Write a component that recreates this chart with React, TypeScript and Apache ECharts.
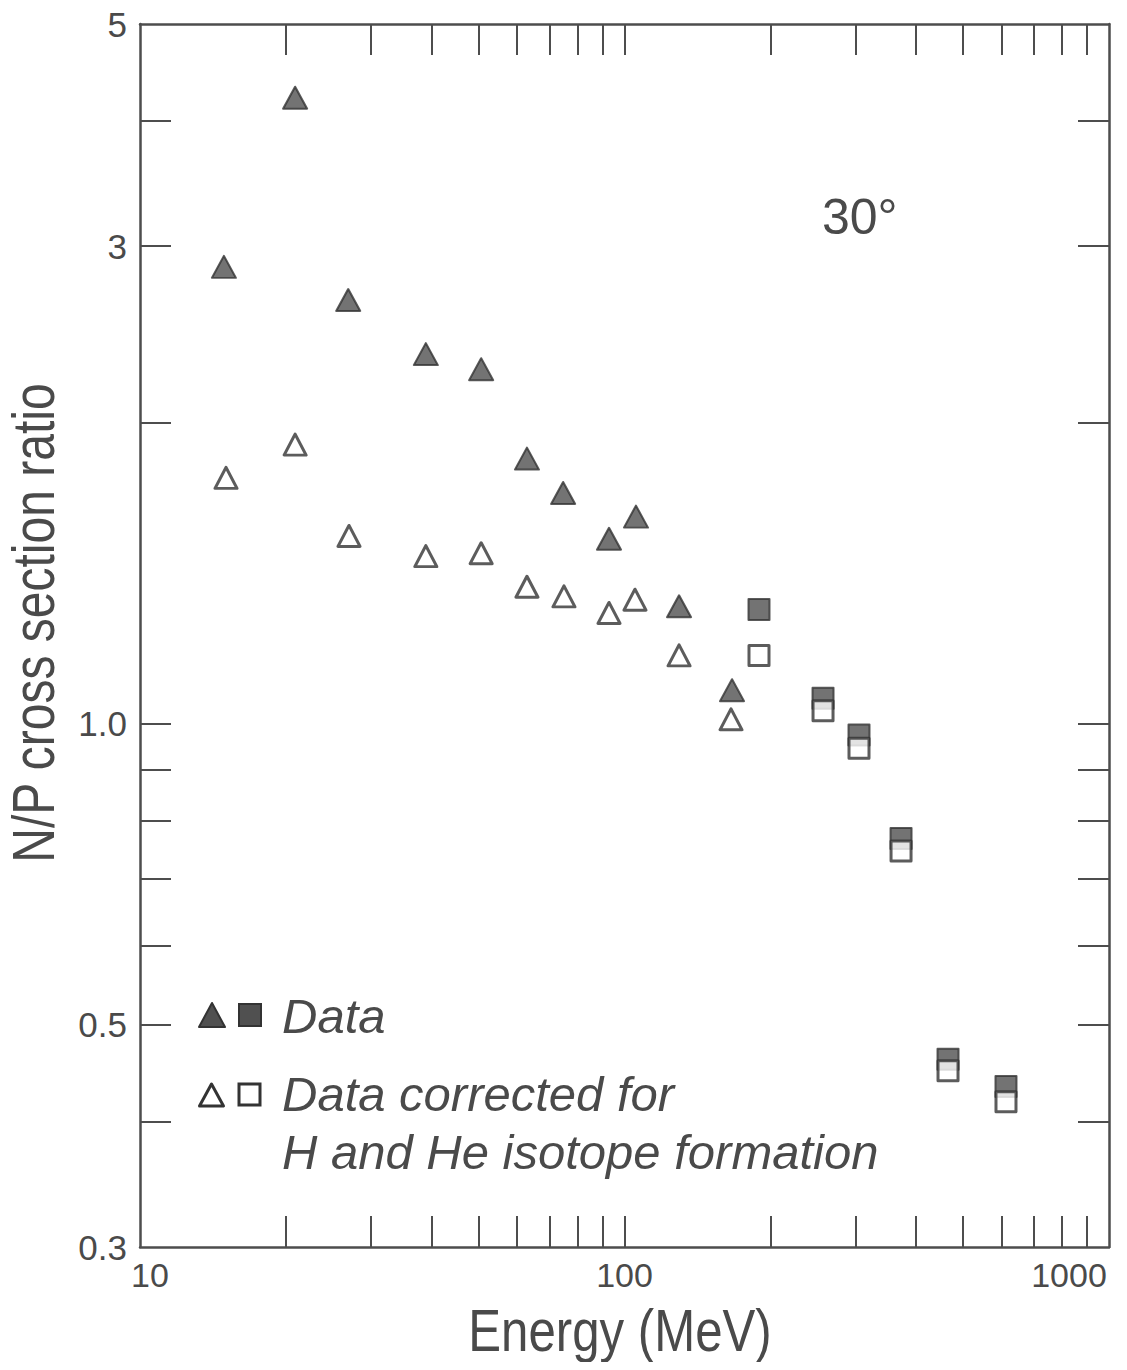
import React, { useEffect, useRef } from "react";
import * as echarts from "echarts";

// ---- data ----
const filledTriE = [14.9, 20.9, 26.9, 38.9, 50.6, 62.9, 74.7, 92.9, 105.6, 129.6, 166.7];
const filledTriR = [2.86, 4.22, 2.65, 2.34, 2.26, 1.84, 1.7, 1.53, 1.61, 1.31, 1.08];
const openTriE = [15.05, 20.9, 27.0, 38.9, 50.6, 62.9, 75.0, 92.9, 105.1, 129.6, 165.9];
const openTriR = [1.76, 1.9, 1.54, 1.47, 1.48, 1.37, 1.34, 1.29, 1.33, 1.17, 1.01];
const squareE = [189.5, 256.9, 304.8, 372.2, 465.3, 612.9];
const filledSqR = [1.3, 1.06, 0.974, 0.768, 0.462, 0.434];
const openSqR = [1.17, 1.03, 0.945, 0.746, 0.45, 0.419];

const xTicks = [20, 30, 40, 50, 60, 70, 80, 90, 100, 200, 300, 400, 500, 600, 700, 800, 900];
const xLabels = [10, 100, 1000];
const yTicks = [0.4, 0.5, 0.6, 0.7, 0.8, 0.9, 1, 2, 3, 4];
const yLabels = [0.3, 0.5, 1, 3, 5];

const xTitle = "Energy (MeV)";
const yTitle = "N/P cross section ratio";
const angleText = "30°";
const legendText1 = "Data";
const legendText2 = "Data corrected for";
const legendText3 = "H and He isotope formation";

const INK = "#4d4d4d";
const TEXT = "#4a4a4a";
const FILL = "#505050";
const FONT = "'Liberation Sans', Arial, Helvetica, sans-serif";

function pairs(xs: number[], ys: number[]) {
  return xs.map((x, i) => [x, ys[i]]);
}

export default function App() {
  const ref = useRef<HTMLDivElement>(null);

  useEffect(() => {
    if (!ref.current) return;
    const chart = echarts.init(ref.current, undefined, { renderer: "svg" });

    const tickStyle = { color: INK, width: 2 };
    const lineStyle = { color: INK, width: 2.5 };

    const xBase = {
      type: "log" as const,
      logBase: 10,
      min: 10,
      max: 1000,
      splitLine: { show: false },
      axisLine: { show: true, lineStyle },
      axisTick: { show: true, inside: true, length: 31, lineStyle: tickStyle, customValues: xTicks },
    };
    const yBase = {
      type: "log" as const,
      logBase: 10,
      min: 0.3,
      max: 5,
      splitLine: { show: false },
      axisLine: { show: true, lineStyle },
      axisTick: { show: true, inside: true, length: 31, lineStyle: tickStyle, customValues: yTicks },
    };

    const option: any = {
      animation: false,
      backgroundColor: "#ffffff",
      grid: { left: 140, top: 24, width: 969, height: 1223, containLabel: false, outerBoundsMode: "none" },
      xAxis: [
        {
          ...xBase,
          position: "bottom",
          axisLabel: {
            show: true,
            customValues: xLabels,
            margin: 11,
            fontFamily: FONT,
            fontSize: 34,
            color: TEXT,
            formatter: (v: number) => {
              const r = Math.round(v);
              if (r === 10) return "{l|10}";
              if (r === 1000) return "{r|1000}";
              return String(r);
            },
            rich: {
              l: { fontFamily: FONT, fontSize: 34, color: TEXT, padding: [0, 0, 0, 20] },
              r: { fontFamily: FONT, fontSize: 34, color: TEXT, padding: [0, 80, 0, 0] },
            },
          },
        },
        { ...xBase, position: "top", axisLabel: { show: false } },
      ],
      yAxis: [
        {
          ...yBase,
          position: "left",
          axisLabel: {
            show: true,
            customValues: yLabels,
            margin: 13,
            fontFamily: FONT,
            fontSize: 35,
            lineHeight: 30,
            color: TEXT,
            formatter: (v: number) => {
              const r = Math.round(v * 10) / 10;
              return r === 1 ? "1.0" : String(r);
            },
          },
        },
        { ...yBase, position: "right", axisLabel: { show: false } },
      ],
      series: [
        {
          type: "scatter",
          name: "Data (triangles)",
          data: pairs(filledTriE, filledTriR),
          symbol: "triangle",
          symbolSize: [24, 22],
          itemStyle: { color: FILL, borderColor: "#333", borderWidth: 2, borderJoin: "round" },
          z: 2,
        },
        {
          type: "scatter",
          name: "Data (squares)",
          data: pairs(squareE, filledSqR),
          symbol: "rect",
          symbolSize: [21, 21],
          itemStyle: { color: FILL, borderColor: "#333", borderWidth: 2, borderJoin: "round" },
          z: 2,
        },
        {
          type: "scatter",
          name: "Corrected (triangles)",
          data: pairs(openTriE, openTriR),
          symbol: "triangle",
          symbolSize: [22, 21],
          itemStyle: { color: "#ffffff", borderColor: "#333", borderWidth: 3, borderJoin: "round" },
          z: 3,
        },
        {
          type: "scatter",
          name: "Corrected (squares)",
          data: pairs(squareE, openSqR),
          symbol: "rect",
          symbolSize: [20, 20],
          itemStyle: { color: "#ffffff", borderColor: "#333", borderWidth: 3, borderJoin: "round" },
          z: 3,
        },
      ],
      graphic: [
        {
          type: "text",
          x: 620,
          y: 1330,
          scaleX: 0.82,
          style: {
            text: xTitle,
            font: `60px ${FONT}`,
            lineHeight: 48,
            fill: TEXT,
            align: "center",
            verticalAlign: "middle",
          },
        },
        {
          type: "text",
          x: 34,
          y: 623,
          rotation: Math.PI / 2,
          scaleX: 0.8,
          style: {
            text: yTitle,
            font: `60px ${FONT}`,
            lineHeight: 44,
            fill: TEXT,
            align: "center",
            verticalAlign: "middle",
          },
        },
        {
          type: "text",
          x: 822,
          y: 217,
          style: { text: angleText, font: `50px ${FONT}`, fill: TEXT, verticalAlign: "middle" },
        },
        {
          type: "group",
          x: 199,
          y: 1003,
          children: [
            {
              type: "polygon",
              shape: { points: [[13, 0], [26, 24], [0, 24]] },
              style: { fill: FILL, stroke: "#333", lineWidth: 2, lineJoin: "round" },
            },
            {
              type: "rect",
              shape: { x: 40, y: 1, width: 22, height: 22 },
              style: { fill: FILL, stroke: "#333", lineWidth: 2 },
            },
            {
              type: "polygon",
              shape: { points: [[12.5, 81], [24.5, 103], [0.5, 103]] },
              style: { fill: "#ffffff", stroke: "#333", lineWidth: 3, lineJoin: "round" },
            },
            {
              type: "rect",
              shape: { x: 40, y: 81, width: 21, height: 21 },
              style: { fill: "#ffffff", stroke: "#333", lineWidth: 3 },
            },
            {
              type: "text",
              x: 83,
              y: 13,
              style: { text: legendText1, font: `italic 49px ${FONT}`, fill: TEXT, verticalAlign: "middle" },
            },
            {
              type: "text",
              x: 83,
              y: 91,
              style: { text: legendText2, font: `italic 49px ${FONT}`, fill: TEXT, verticalAlign: "middle" },
            },
            {
              type: "text",
              x: 83,
              y: 149,
              style: { text: legendText3, font: `italic 49px ${FONT}`, fill: TEXT, verticalAlign: "middle" },
            },
          ],
        },
      ],
    };

    chart.setOption(option);
    return () => chart.dispose();
  }, []);

  return <div ref={ref} style={{ width: 1127, height: 1370, margin: -8 }} />;
}
